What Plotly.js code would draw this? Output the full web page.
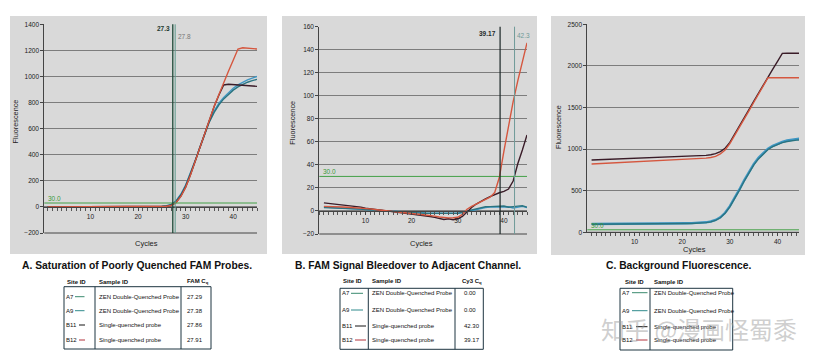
<!DOCTYPE html>
<html><head><meta charset="utf-8">
<script src="https://cdn.plot.ly/plotly-3.0.1.min.js"></script>
<style>html,body{margin:0;padding:0;background:#fff;}#chart{width:819px;height:362px;}</style>
</head><body><div id="chart"></div>
<script>
// ---------- DATA ----------
const cycles = [1,2,3,4,5,6,7,8,9,10,11,12,13,14,15,16,17,18,19,20,21,22,23,24,25,26,27,28,29,30,31,32,33,34,35,36,37,38,39,40,41,42,43,44,45];

// Panel A: Saturation of poorly quenched FAM probes (FAM channel)
const aA7  = [2,2,1,1,1,1,1,0,0,0,0,0,0,0,0,0,0,0,0,0,0,1,1,2,4,9,20,47,97,167,255,355,460,565,660,735,795,840,878,910,936,957,974,988,1000];
const aA9  = [1,1,1,1,0,0,0,0,0,0,0,0,0,0,0,0,0,0,0,0,0,0,1,2,3,8,18,44,93,162,250,350,455,560,652,725,783,828,865,895,920,940,956,968,978];
const aB11 = [0,0,0,0,0,0,0,0,0,0,0,0,0,0,0,1,1,1,1,1,1,1,1,1,2,5,13,35,82,152,245,350,460,570,675,770,858,935,940,937,934,931,929,926,924];
const aB12 = [0,0,0,0,0,0,0,0,0,0,0,0,0,0,0,3,3,3,3,3,3,3,3,3,3,5,12,34,80,150,243,350,462,575,680,772,862,955,1040,1125,1210,1220,1217,1214,1211];

// Panel B: FAM signal bleedover to adjacent channel (Cy3 channel)
const bA7  = [3.5,3.3,3.1,2.9,2.7,2.5,2.3,2.0,1.8,1.5,1.2,0.9,0.6,0.3,0,-0.3,-0.6,-0.9,-1.2,-1.5,-1.6,-1.7,-1.8,-1.9,-2,-2,-2,-2.1,-2.1,-2,-1.5,-0.5,0.5,1.5,2.5,3,3.3,3.5,3.8,4,3.6,2.6,3.4,4,3];
const bA9  = [3,2.9,2.8,2.6,2.4,2.2,2.0,1.8,1.6,1.3,1.0,0.7,0.4,0.1,-0.2,-0.5,-0.8,-1.1,-1.4,-1.6,-1.8,-1.9,-2,-2.1,-2.2,-2.2,-2.3,-2.3,-2.2,-2.1,-1,0,1,2,3,3.6,3.8,4,4.2,4.3,3.2,3.4,4.2,4.5,3.3];
const bB11 = [7,6.6,6.2,5.6,5.2,4.8,4.3,3.8,3.3,2.5,2,1.6,1.1,0.5,0,-0.6,-1.1,-1.6,-2.2,-2.8,-3.3,-3.8,-4.3,-4.8,-5.6,-6.4,-7.4,-6.8,-7.6,-6.8,-4.8,-1,3,6,8.5,10.5,12.5,14.5,15.8,17,19,26,41,53,66];
const bB12 = [4,4,3.8,3.6,3.4,3.2,3.0,2.8,2.6,2.3,1.8,1.3,0.8,0.3,-0.2,-0.7,-1.2,-1.6,-2,-2.4,-2.8,-3.1,-3.5,-3.8,-4.5,-5.2,-5.8,-6,-5.9,-5.5,-3,1.5,4,6,7.5,9.5,12,16,29,52,74,95,113,130,146];

// Panel C: Background fluorescence
const cA7  = [100,100,101,101,101,102,102,102,103,103,104,104,105,105,106,106,107,107,108,108,109,110,112,115,120,130,148,180,235,315,410,515,625,730,820,895,955,1005,1040,1068,1088,1103,1114,1122,1128];
const cA9  = [96,96,97,97,97,98,98,98,99,99,100,100,101,101,102,102,103,103,104,104,105,106,108,111,116,126,143,175,228,306,400,505,614,718,808,882,942,995,1030,1057,1077,1092,1102,1108,1112];
const cB11 = [869,871,873,875,877,879,881,883,885,888,890,892,894,896,898,900,902,904,906,909,911,914,917,920,925,932,945,970,1010,1080,1175,1275,1375,1475,1575,1675,1770,1865,1960,2055,2150,2152,2152,2152,2152];
const cB12 = [821,824,827,830,833,836,839,842,845,848,850,853,855,858,860,862,864,866,868,870,873,876,880,885,891,899,913,942,990,1065,1160,1260,1360,1460,1560,1660,1760,1858,1858,1858,1858,1858,1858,1858,1858];

const threshold = 30;
const ctLinesA = [27.3, 27.8];
const ctLabelsA = ['27.3', '27.8'];
const ctLinesB = [39.17, 42.3];
const ctLabelsB = ['39.17', '42.3'];

const panelTitles = ['A. Saturation of Poorly Quenched FAM Probes.', 'B. FAM Signal Bleedover to Adjacent Channel.', 'C. Background Fluorescence.'];
const siteIds = ['A7', 'A9', 'B11', 'B12'];
const sampleIds = ['ZEN Double-Quenched Probe', 'ZEN Double-Quenched Probe', 'Single-quenched probe', 'Single-quenched probe'];
const famCq = ['27.29', '27.38', '27.86', '27.91'];
const cy3Cq = ['0.00', '0.00', '42.30', '39.17'];
const watermark = '知乎 @漫画怪蜀黍';

// ---------- STYLE / GEOMETRY ----------
const W = 819, H = 362;
const fx = x => x / W, fy = y => 1 - y / H;
const FONT = '"Liberation Sans", Arial, sans-serif';
const col = {A7: '#3f97c4', A9: '#2b7480', B11: '#3a1c28', B12: '#d5573f'};
const tabCol = {A7: '#3a8a6e', A9: '#2f8a8c', B11: '#151515', B12: '#b3323c'};
const green = '#43a047';

const P = [
  {x: [44.3, 257], y: [24.3, 233], yr: [-200, 1400], dy: 200, xr: [0.3, 45]},
  {x: [319.3, 527], y: [26.7, 234], yr: [-20, 160], dy: 20, xr: [0, 45]},
  {x: [587.3, 799], y: [24.3, 232.3], yr: [0, 2500], dy: 500, xr: [0.1, 44.5]}
];
const series = [
  [aA7, aA9, aB11, aB12],
  [bA7, bA9, bB11, bB12],
  [cA7, cA9, cB11, cB12]
];
const keys = ['A7', 'A9', 'B11', 'B12'];

const traces = [];
series.forEach((set, i) => {
  const xa = i === 0 ? 'x' : 'x' + (i + 1), ya = i === 0 ? 'y' : 'y' + (i + 1);
  [0, 1, 2, 3].forEach(k => {
    traces.push({x: cycles, y: set[k], xaxis: xa, yaxis: ya, type: 'scatter', mode: 'lines',
      line: {color: col[keys[k]], width: (k === 0 && i === 2) ? 2.4 : 1.4}, hoverinfo: 'skip', showlegend: false});
  });
});

const layout = {
  width: W, height: H, margin: {l: 0, r: 0, t: 0, b: 0},
  paper_bgcolor: '#ffffff', plot_bgcolor: '#ffffff', showlegend: false,
  font: {family: FONT, size: 6.5, color: '#222'},
  shapes: [], annotations: []
};

P.forEach((p, i) => {
  const s = i === 0 ? '' : String(i + 1);
  const yDom = [fy(p.y[1]), fy(p.y[0])];
  const zeroFrac = (0 - p.yr[0]) / (p.yr[1] - p.yr[0]);
  const pos = yDom[0] + zeroFrac * (yDom[1] - yDom[0]);
  layout['xaxis' + s] = {
    domain: [fx(p.x[0]), fx(p.x[1])], range: p.xr, anchor: i === 2 ? 'y3' : 'free', position: pos,
    showgrid: false, zeroline: false, showline: true, linecolor: '#444', linewidth: 1,
    tickvals: [10, 20, 30, 40], ticks: 'outside', ticklen: 3, tickcolor: '#444',
    minor: {dtick: 1, ticks: 'outside', ticklen: 3, tickcolor: '#555', showgrid: false},
    tickfont: {family: FONT, size: 6.5, color: '#222'}, fixedrange: true
  };
  layout['yaxis' + s] = {
    domain: yDom, range: p.yr, anchor: i === 0 ? 'x' : 'x' + (i + 1), dtick: p.dy,
    showgrid: true, gridcolor: '#7d7d7d', gridwidth: 1, zeroline: false,
    showline: true, linecolor: '#444', linewidth: 1, ticks: 'outside', ticklen: 3, tickcolor: '#444',
    tickfont: {family: FONT, size: 6.5, color: '#222'}, fixedrange: true
  };
});

// gray panel boxes
const boxes = [[10, 16, 267, 254], [282, 16, 537, 254], [551, 16, 805, 255]];
boxes.forEach(b => layout.shapes.push({type: 'rect', xref: 'paper', yref: 'paper', layer: 'below',
  x0: fx(b[0]), x1: fx(b[2]), y0: fy(b[3]), y1: fy(b[1]), fillcolor: '#d9d9d9', line: {width: 0}}));

// bottom border lines and threshold lines
P.forEach((p, i) => {
  const xa = i === 0 ? 'x' : 'x' + (i + 1), ya = i === 0 ? 'y' : 'y' + (i + 1);
  layout.shapes.push({type: 'line', xref: xa + ' domain', yref: ya + ' domain', x0: 0, x1: 1, y0: 0, y1: 0, line: {color: '#444', width: 1}});
  layout.shapes.push({type: 'line', xref: xa + ' domain', yref: ya, x0: 0, x1: 1, y0: threshold, y1: threshold, line: {color: green, width: 1}});
  layout.annotations.push({xref: xa + ' domain', yref: ya, x: 0.01, y: threshold, xanchor: 'left', yanchor: 'bottom',
    text: '30.0', showarrow: false, font: {family: FONT, size: 6.5, color: '#3a9a3a'}, yshift: -1});
});

// Ct vertical lines
const ctA = [{c: '#1e4a38', w: 1.3}, {c: '#5f9a8c', w: 1}];
ctLinesA.forEach((v, k) => {
  layout.shapes.push({type: 'line', xref: 'x', yref: 'y domain', x0: v, x1: v, y0: 0, y1: 1, line: {color: ctA[k].c, width: ctA[k].w}});
});
layout.annotations.push({xref: 'x', yref: 'paper', x: ctLinesA[0], y: fy(29), xanchor: 'right', yanchor: 'middle', xshift: -1,
  text: '<b>' + ctLabelsA[0] + '</b>', showarrow: false, font: {family: FONT, size: 6.5, color: '#1e3a30'}});
layout.annotations.push({xref: 'x', yref: 'paper', x: ctLinesA[1], y: fy(36.5), xanchor: 'left', yanchor: 'middle', xshift: 1,
  text: ctLabelsA[1], showarrow: false, font: {family: FONT, size: 6.5, color: '#777'}});
const ctB = [{c: '#1b2626', w: 1.2}, {c: '#6f9a98', w: 1}];
ctLinesB.forEach((v, k) => {
  layout.shapes.push({type: 'line', xref: 'x2', yref: 'y2 domain', x0: v, x1: v, y0: 0, y1: 1, line: {color: ctB[k].c, width: ctB[k].w}});
});
layout.annotations.push({xref: 'x2', yref: 'paper', x: ctLinesB[0], y: fy(33.5), xanchor: 'right', yanchor: 'middle', xshift: -2,
  text: '<b>' + ctLabelsB[0] + '</b>', showarrow: false, font: {family: FONT, size: 6.5, color: '#1e2a2a'}});
layout.annotations.push({xref: 'x2', yref: 'paper', x: ctLinesB[1], y: fy(36), xanchor: 'left', yanchor: 'middle', xshift: 0,
  text: ctLabelsB[1], showarrow: false, font: {family: FONT, size: 6.5, color: '#6f9a98'}});

// axis titles
const cyc = [[146.7, 243], [421.7, 243], [694.3, 249]];
const flu = [[15.7, 121.7], [291.7, 123], [558.3, 126.7]];
cyc.forEach(c => layout.annotations.push({xref: 'paper', yref: 'paper', x: fx(c[0]), y: fy(c[1]), text: 'Cycles', showarrow: false,
  xanchor: 'center', yanchor: 'middle', font: {family: FONT, size: 7.5, color: '#222'}}));
flu.forEach(c => layout.annotations.push({xref: 'paper', yref: 'paper', x: fx(c[0]), y: fy(c[1]), text: 'Fluorescence', showarrow: false,
  textangle: -90, xanchor: 'center', yanchor: 'middle', font: {family: FONT, size: 7.3, color: '#222'}}));

// panel titles
const tpos = [137, 407.5, 678];
panelTitles.forEach((t, i) => layout.annotations.push({xref: 'paper', yref: 'paper', x: fx(tpos[i]), y: fy(265), text: '<b>' + t + '</b>',
  showarrow: false, xanchor: 'center', yanchor: 'middle', font: {family: FONT, size: 10.3, color: '#111'}}));

// tables
const tables = [
  {box: [64, 286.7, 211, 349], seps: [95, 181], hdr: [[65, 'Site ID'], [97, 'Sample ID'], [185, 'FAM C<sub>q</sub>']], hy: 281.5,
   rows: [296.7, 310.7, 325, 340], sx: 64.5, lx: [[75, 84.5], [75, 84.5], [79, 85], [79, 85]], smx: 97, vals: famCq, vx: 185},
  {box: [340, 288.3, 483.3, 349.3], seps: [368.3, 455], hdr: [[341, 'Site ID'], [370, 'Sample ID'], [460, 'Cy3 C<sub>q</sub>']], hy: 281,
   rows: [293.3, 310, 326, 340], sx: 340.5, lx: [[351, 363], [351, 363], [355, 366], [355, 366]], smx: 370, vals: cy3Cq, vx: 462},
  {box: [620, 288.3, 732.7, 350], seps: [650], hdr: [[622.7, 'Site ID'], [651.7, 'Sample ID']], hy: 282,
   rows: [292.7, 310.7, 326.7, 340], sx: 621, lx: [[632, 647.5], [632, 647.5], [636, 647.5], [636, 647.5]], smx: 652, vals: null, vx: 0}
];
const tc = '#1d3440';
tables.forEach(tb => {
  const b = tb.box;
  layout.shapes.push({type: 'rect', xref: 'paper', yref: 'paper', x0: fx(b[0]), x1: fx(b[2]), y0: fy(b[3]), y1: fy(b[1]), line: {color: tc, width: 1}});
  tb.seps.forEach(sx => layout.shapes.push({type: 'line', xref: 'paper', yref: 'paper', x0: fx(sx), x1: fx(sx), y0: fy(b[3]), y1: fy(b[1]), line: {color: tc, width: 1}}));
  tb.hdr.forEach(h => layout.annotations.push({xref: 'paper', yref: 'paper', x: fx(h[0]), y: fy(tb.hy), text: '<b>' + h[1] + '</b>', showarrow: false,
    xanchor: 'left', yanchor: 'middle', font: {family: FONT, size: 6, color: '#111'}}));
  tb.rows.forEach((ry, r) => {
    layout.annotations.push({xref: 'paper', yref: 'paper', x: fx(tb.sx), y: fy(ry), text: siteIds[r], showarrow: false,
      xanchor: 'left', yanchor: 'middle', borderpad: 0, font: {family: FONT, size: 6, color: '#111'}});
    layout.shapes.push({type: 'line', xref: 'paper', yref: 'paper', x0: fx(tb.lx[r][0]), x1: fx(tb.lx[r][1]), y0: fy(ry), y1: fy(ry),
      line: {color: tabCol[keys[r]], width: 1}});
    layout.annotations.push({xref: 'paper', yref: 'paper', x: fx(tb.smx), y: fy(ry), text: sampleIds[r], showarrow: false,
      xanchor: 'left', yanchor: 'middle', font: {family: FONT, size: 6, color: '#111'}});
    if (tb.vals) layout.annotations.push({xref: 'paper', yref: 'paper', x: fx(tb.vx), y: fy(ry), text: tb.vals[r], showarrow: false,
      xanchor: 'left', yanchor: 'middle', font: {family: FONT, size: 6, color: '#111'}});
  });
});

// watermark
layout.annotations.push({xref: 'paper', yref: 'paper', x: fx(699), y: fy(328), text: watermark, showarrow: false,
  xanchor: 'center', yanchor: 'middle', font: {family: '"Noto Sans CJK SC", sans-serif', size: 24, color: 'rgba(160,160,160,0.5)'}});

Plotly.newPlot('chart', traces, layout, {staticPlot: true, displayModeBar: false});
</script></body></html>
